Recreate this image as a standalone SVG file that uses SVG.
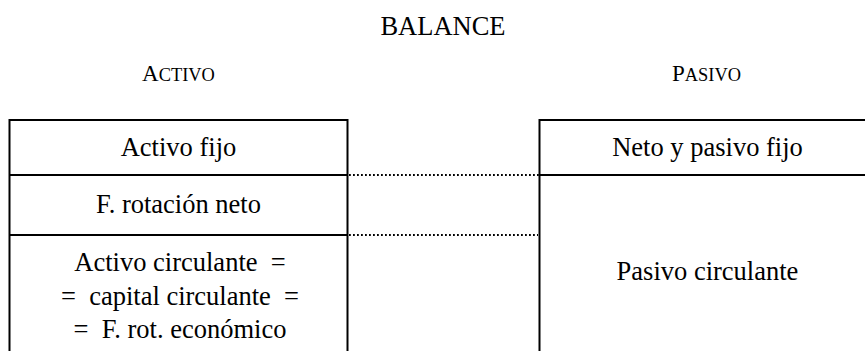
<svg xmlns="http://www.w3.org/2000/svg" width="865" height="351" viewBox="0 0 865 351">
<style>
text { font-family: "Liberation Serif", Tinos, "Times New Roman", "DejaVu Serif", serif; fill: #000; }
.t { font-size: 26.5px; text-anchor: middle; }
.hd { font-size: 23px; }
.sc { font-size: 18.4px; }
.box { fill: none; stroke: #000; stroke-width: 2; }
.dot { fill: none; stroke: #000; stroke-width: 1.8; stroke-dasharray: 1.8 2.2; }
</style>
<rect width="865" height="351" fill="#fff"/>
<g id="title"><text class="t" x="443" y="35">BALANCE</text></g>
<g id="header-activo"><text x="142" y="81" class="hd">A<tspan class="sc">CTIVO</tspan></text></g>
<g id="header-pasivo"><text x="672" y="81" class="hd">P<tspan class="sc">ASIVO</tspan></text></g>
<g id="activo">
<path class="box" d="M9.5 352 V120 H347.5 V352"/>
<g id="activo-fijo"><text class="t" x="178.5" y="156">Activo fijo</text></g>
<g id="f-rotacion-neto"><line class="box" x1="9.5" y1="175" x2="347.5" y2="175"/><text class="t" x="178.5" y="213">F. rotación neto</text></g>
<g id="activo-circulante"><line class="box" x1="9.5" y1="235" x2="347.5" y2="235"/>
<text class="t" x="180" y="271" xml:space="preserve">Activo circulante  =</text>
<text class="t" x="180" y="305" xml:space="preserve">=  capital circulante  =</text>
<text class="t" x="180" y="338" xml:space="preserve">=  F. rot. económico</text>
</g>
</g>
<g id="pasivo">
<path class="box" d="M539.5 352 V120 H880"/>
<g id="neto-pasivo-fijo"><text class="t" x="707.5" y="156">Neto y pasivo fijo</text></g>
<g id="pasivo-circulante"><line class="box" x1="539.5" y1="175" x2="880" y2="175"/><text class="t" x="707.5" y="280">Pasivo circulante</text></g>
</g>
<g id="connectors">
<line class="dot" x1="349" y1="175" x2="539" y2="175"/>
<line class="dot" x1="349" y1="235" x2="538" y2="235"/>
</g>
</svg>
